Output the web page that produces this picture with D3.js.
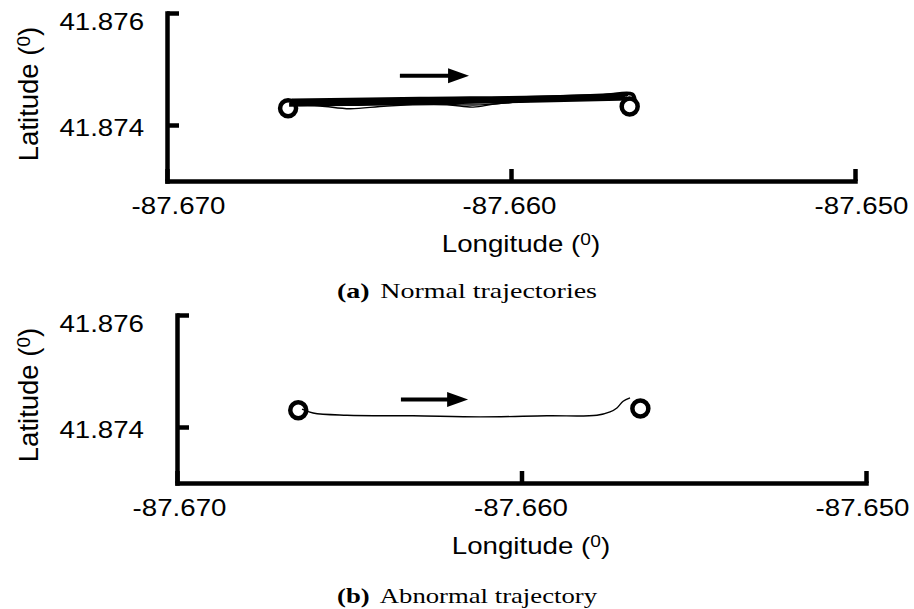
<!DOCTYPE html>
<html><head><meta charset="utf-8">
<script src="https://cdn.jsdelivr.net/npm/d3@7"></script>
<style>body{margin:0;background:#fff}svg{display:block}</style>
</head><body>
<svg id="c" width="914" height="609"></svg>
<script>
// ---------- data ----------
const lonDomain = [-87.670, -87.650];
const latDomain = [41.873, 41.876];
const lonTicks = [-87.670, -87.660, -87.650];
const latTicks = [41.876, 41.874];
const lonTickLabels = ["-87.670", "-87.660", "-87.650"];
const latTickLabels = ["41.876", "41.874"];

const startPoint = [-87.66648, 41.87430];
const endPoint = [-87.65655, 41.87433];

// normal trajectories (panel a), thick bundle
const normalThick = [
  [[-87.66642,41.87439],[-87.66323,41.87442],[-87.65974,41.87446],[-87.65669,41.87450]],
  [[-87.66637,41.87444],[-87.66265,41.87447],[-87.65858,41.87450],[-87.65660,41.87455]],
  [[-87.66645,41.87436],[-87.66381,41.87438],[-87.66032,41.87442],[-87.65654,41.87447]],
  [[-87.66640,41.87441],[-87.66177,41.87445],[-87.65741,41.87452],[-87.65648,41.87455],[-87.65640,41.87445]]
];
// normal trajectories (panel a), thin deviating ones
const normalThin = [
  [[-87.66642,41.87436],[-87.66555,41.87434],[-87.66468,41.87429],[-87.66360,41.87434],[-87.66186,41.87436],[-87.66110,41.87432],[-87.66041,41.87438],[-87.65916,41.87443],[-87.65663,41.87450]],
  [[-87.66642,41.87438],[-87.66497,41.87435],[-87.66265,41.87438],[-87.66090,41.87436],[-87.65945,41.87443],[-87.65669,41.87450]]
];
// abnormal trajectory (panel b)
const abnormal = [
  [-87.66637,41.87432],[-87.66605,41.87425],[-87.66507,41.87421],[-87.66315,41.87420],
  [-87.66120,41.87418],[-87.65926,41.87420],[-87.65781,41.87421],[-87.65743,41.87427],
  [-87.65723,41.87434],[-87.65705,41.87446],[-87.65685,41.87452]
];
const arrowA = [[-87.66323,41.87488],[-87.66122,41.87488]];
const arrowB = [[-87.66350,41.87449],[-87.66155,41.87449]];

const captions = [["(a)", "Normal trajectories"], ["(b)", "Abnormal trajectory"]];

// ---------- drawing ----------
const svg = d3.select("#c");
const SX = 1.13;            // horizontal stretch of sans text
const SANS = "'Liberation Sans', Arial, sans-serif";
const SERIF = "'Liberation Serif', 'Times New Roman', serif";

function supLabel(sel, main, size, supSize, supDy) {
  const t = sel.append("text").attr("font-family", SANS).attr("font-size", size)
    .attr("text-anchor", "middle").attr("fill", "#000");
  t.append("tspan").text(main + " (");
  t.append("tspan").attr("font-size", supSize).attr("dy", supDy).text("0");
  t.append("tspan").attr("dy", -supDy).text(")");
  return t;
}

function panel(cfg) {
  const g = svg.append("g");
  const x = d3.scaleLinear().domain(lonDomain).range([cfg.x0, cfg.x1]);
  const y = d3.scaleLinear().domain(latDomain).range([cfg.yb, cfg.yt]);

  // axes
  const ax = g.append("g").attr("transform", `translate(0,${cfg.yb})`)
    .call(d3.axisBottom(x).tickValues(lonTicks).tickSizeInner(-12).tickSizeOuter(0)
      .tickFormat((d, i) => lonTickLabels[i]));
  const ay = g.append("g").attr("transform", `translate(${cfg.x0},0)`)
    .call(d3.axisLeft(y).tickValues(latTicks).tickSizeInner(-12).tickSizeOuter(0)
      .tickFormat((d, i) => latTickLabels[i]));
  [ax, ay].forEach(a => {
    a.select(".domain").attr("stroke", "#000").attr("stroke-width", 4.5).attr("stroke-linecap", "square");
    a.selectAll(".tick line").attr("stroke", "#000").attr("stroke-width", 4.5);
    a.selectAll("text").attr("font-family", SANS).attr("font-size", 24.5).attr("fill", "#000");
  });
  ax.selectAll(".tick text").attr("y", 33).attr("dy", 0)
    .attr("x", (d, i) => cfg.tdx[i] / SX)
    .attr("transform", `scale(${SX},1)`);
  ay.selectAll(".tick text").attr("dy", 0)
    .attr("y", (d, i) => i === 0 ? 16 : 10)
    .attr("x", (144 - cfg.x0) / SX)
    .attr("transform", `scale(${SX},1)`);

  // axis titles
  supLabel(g.append("g").attr("transform", `translate(${cfg.x0 + 354},${cfg.yb + 71}) scale(${SX},1)`),
    "Longitude", 24.5, 17, -7);
  supLabel(g.append("g").attr("transform", `translate(38,${cfg.ly}) rotate(-90)`),
    "Latitude", 27.5, 19, -8);

  // caption
  const cap = g.append("text").attr("x", 467).attr("y", cfg.cy).attr("text-anchor", "middle")
    .attr("font-family", SERIF).attr("font-size", 21).attr("fill", "#000")
    .attr("textLength", 260).attr("lengthAdjust", "spacingAndGlyphs");
  cap.append("tspan").attr("font-weight", "bold").text(cfg.caption[0]);
  cap.append("tspan").attr("dx", 8).text(cfg.caption[1]);

  const line = d3.line().x(d => x(d[0])).y(d => y(d[1])).curve(d3.curveCatmullRom);

  cfg.thick.forEach(tr => g.append("path").attr("d", line(tr)).attr("fill", "none")
    .attr("stroke", "#000").attr("stroke-width", 3.8).attr("stroke-linejoin", "round"));
  cfg.thin.forEach(tr => g.append("path").attr("d", line(tr)).attr("fill", "none")
    .attr("stroke", "#000").attr("stroke-width", 1.4).attr("stroke-linejoin", "round"));

  // arrow
  const a0 = [x(cfg.arrow[0][0]), y(cfg.arrow[0][1])];
  const a1 = [x(cfg.arrow[1][0]), y(cfg.arrow[1][1])];
  g.append("line").attr("x1", a0[0]).attr("y1", a0[1]).attr("x2", a1[0] - 18).attr("y2", a1[1])
    .attr("stroke", "#000").attr("stroke-width", 4);
  g.append("path").attr("d", `M${a1[0]},${a1[1]} L${a1[0] - 21},${a1[1] - 7.5} L${a1[0] - 21},${a1[1] + 7.5} Z`)
    .attr("fill", "#000");

  // endpoints
  [startPoint, endPoint].forEach(p => g.append("circle")
    .attr("cx", x(p[0])).attr("cy", y(p[1])).attr("r", 8)
    .attr("fill", "none").attr("stroke", "#000").attr("stroke-width", 4.5));
}

panel({x0: 167, x1: 855, yt: 13, yb: 181, ly: 94, cy: 298, tdx: [11, -2, 6],
  caption: captions[0], thick: normalThick, thin: normalThin, arrow: arrowA});
panel({x0: 177, x1: 866, yt: 315, yb: 483, ly: 395, cy: 603, tdx: [2, -1, -4],
  caption: captions[1], thick: [], thin: [abnormal], arrow: arrowB});
</script>
</body></html>
